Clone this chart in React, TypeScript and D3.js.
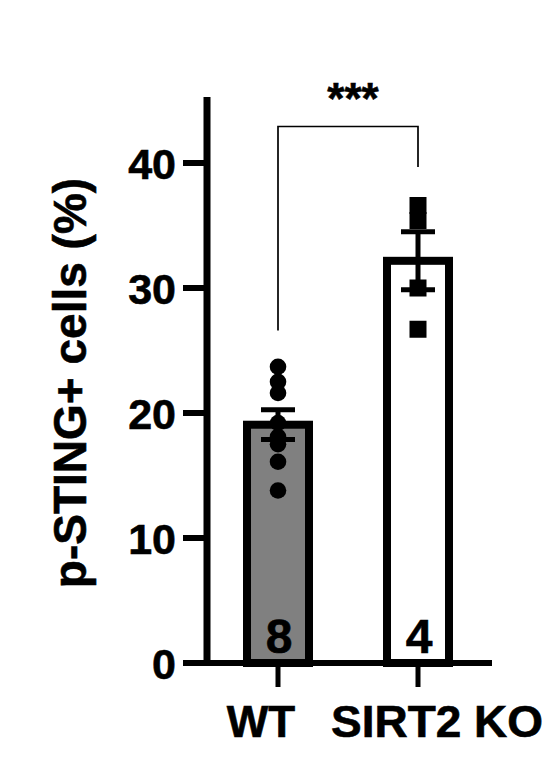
import React from "react";
import * as d3 from "d3";

const categories = ["WT", "SIRT2 KO"];
const wtValues = [23.7, 22.5, 21.6, 19.2, 18.1, 17.5, 16.1, 13.8];
const koValues = [36.6, 35.4, 30.0, 26.7];
const yTicks = [0, 10, 20, 30, 40];
const yLabel = "p-STING+ cells (%)";
const sigLabel = "***";

const W = 544;
const H = 758;
const FONT = "Arial, 'Liberation Sans', Helvetica, sans-serif";

function sem(v: number[]) {
  const sd = d3.deviation(v) ?? 0;
  return sd / Math.sqrt(v.length);
}

export default function App() {
  const y = d3.scaleLinear().domain([0, 45]).range([663, 100.5]);
  const x = d3.scalePoint<string>().domain(categories).range([278, 418]);
  const groups = [
    { name: categories[0], values: wtValues, fill: "#808080", shape: "circle" },
    { name: categories[1], values: koValues, fill: "#ffffff", shape: "square" },
  ];
  const barHalf = 31;
  const axisX = 207;
  const y0 = y(0);
  const textProps = { fontWeight: "bold", fill: "#000", stroke: "#000", strokeWidth: 0.6 } as const;

  return (
    <svg
      width={W}
      height={H}
      style={{ position: "absolute", left: 0, top: 0, background: "#fff" }}
      fontFamily={FONT}
    >
      <rect width={W} height={H} fill="#fff" />
      {/* bars */}
      {groups.map((g) => {
        const m = d3.mean(g.values) ?? 0;
        const cx = x(g.name)!;
        return (
          <rect
            key={g.name}
            x={cx - barHalf}
            y={y(m)}
            width={barHalf * 2}
            height={y0 - y(m)}
            fill={g.fill}
            stroke="#000"
            strokeWidth={8}
          />
        );
      })}
      {/* points */}
      {groups.map((g) => {
        const cx = x(g.name)!;
        return (
          <g key={g.name + "pts"}>
            {g.values.map((v, i) =>
              g.shape === "circle" ? (
                <circle key={i} cx={cx} cy={y(v)} r={8.3} fill="#000" />
              ) : (
                <rect key={i} x={cx - 8.5} y={y(v) - 8.5} width={17} height={17} fill="#000" />
              )
            )}
          </g>
        );
      })}
      {/* error bars */}
      {groups.map((g) => {
        const m = d3.mean(g.values) ?? 0;
        const s = sem(g.values);
        const cx = x(g.name)!;
        return (
          <g key={g.name + "err"} stroke="#000" strokeWidth={5}>
            <line x1={cx} x2={cx} y1={y(m + s)} y2={y(m - s)} />
            <line x1={cx - 17} x2={cx + 17} y1={y(m + s)} y2={y(m + s)} />
            <line x1={cx - 17} x2={cx + 17} y1={y(m - s)} y2={y(m - s)} />
          </g>
        );
      })}
      {/* n labels */}
      {groups.map((g) => (
        <text key={g.name + "n"} x={x(g.name)! + 1} y={653} textAnchor="middle" fontSize={48} {...textProps}>
          {g.values.length}
        </text>
      ))}
      {/* y axis */}
      <line x1={axisX} x2={axisX} y1={97} y2={y0 + 3} stroke="#000" strokeWidth={7} />
      {yTicks.map((t) => (
        <g key={t}>
          <line x1={183} x2={axisX} y1={y(t)} y2={y(t)} stroke="#000" strokeWidth={6} />
          <text x={176} y={y(t) + 15.5} textAnchor="end" fontSize={43} {...textProps}>
            {t}
          </text>
        </g>
      ))}
      {/* x axis */}
      <line x1={183} x2={492} y1={y0} y2={y0} stroke="#000" strokeWidth={6} />
      {categories.map((c) => (
        <line key={c} x1={x(c)!} x2={x(c)!} y1={y0} y2={687} stroke="#000" strokeWidth={5} />
      ))}
      <text x={261} y={737} textAnchor="middle" fontSize={44} {...textProps}>
        {categories[0]}
      </text>
      <text x={331} y={737} textAnchor="start" fontSize={44} {...textProps} textLength={212} lengthAdjust="spacingAndGlyphs">
        {categories[1]}
      </text>
      {/* y label */}
      <text transform={`translate(86,383) rotate(-90)`} textAnchor="middle" fontSize={46} {...textProps}>
        {yLabel}
      </text>
      {/* significance bracket */}
      <path
        d={`M${x(categories[0])},${y(26.6)} V${126.5} H${x(categories[1])} V${167}`}
        fill="none"
        stroke="#000"
        strokeWidth={1.7}
      />
      <text x={353} y={114} textAnchor="middle" fontSize={44} {...textProps}>
        {sigLabel}
      </text>
    </svg>
  );
}
